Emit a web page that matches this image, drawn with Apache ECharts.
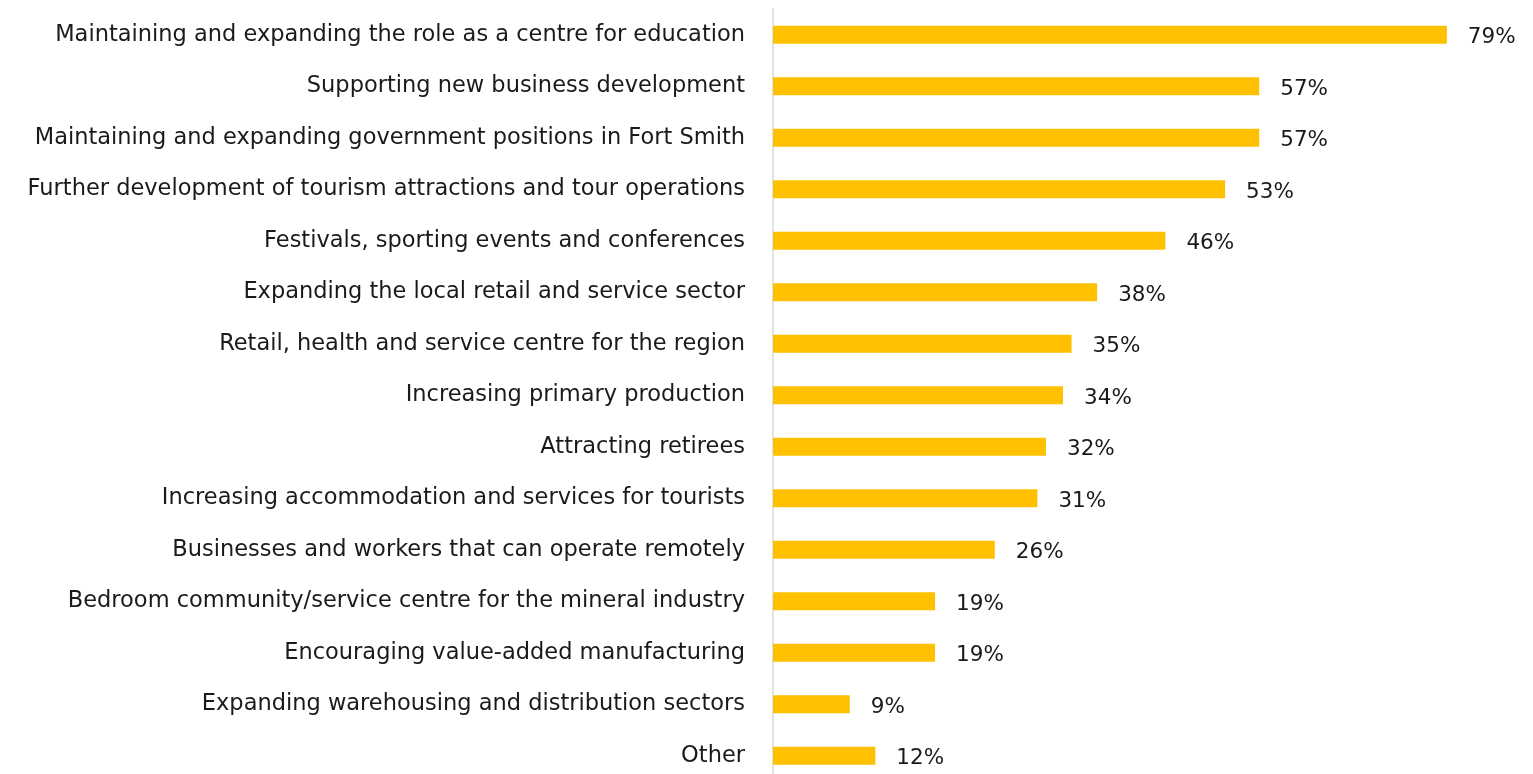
<!DOCTYPE html>
<html>
<head>
<meta charset="utf-8">
<script src="https://cdn.jsdelivr.net/npm/echarts@6/dist/echarts.min.js"></script>
<style>
  html, body { margin: 0; padding: 0; background: #fff; overflow: hidden; }
  #chart { width: 1533px; height: 800px; }
</style>
</head>
<body>
<div id="chart"></div>
<script>
// categories top to bottom
const categories = [
  'Maintaining and expanding the role as a centre for education',
  'Supporting new business development',
  'Maintaining and expanding government positions in Fort Smith',
  'Further development of tourism attractions and tour operations',
  'Festivals, sporting events and conferences',
  'Expanding the local retail and service sector',
  'Retail, health and service centre for the region',
  'Increasing primary production',
  'Attracting retirees',
  'Increasing accommodation and services for tourists',
  'Businesses and workers that can operate remotely',
  'Bedroom community/service centre for the mineral industry',
  'Encouraging value-added manufacturing',
  'Expanding warehousing and distribution sectors',
  'Other'
];
const values = [79, 57, 57, 53, 46, 38, 35, 34, 32, 31, 26, 19, 19, 9, 12];

// chart box is a bit taller than the window so the last row can run off the bottom edge
const chart = echarts.init(document.getElementById('chart'));
const option = {
  animation: false,
  grid: { left: 773, top: 9, width: 682.4, height: 772.5 },
  xAxis: {
    type: 'value',
    min: 0,
    max: 80,
    show: false
  },
  yAxis: {
    type: 'category',
    inverse: true,
    data: categories,
    axisLine: { show: true, lineStyle: { color: '#d9d9d9', width: 1.5 } },
    axisTick: { show: false },
    axisLabel: {
      margin: 28,
      color: '#1a1a1a',
      fontFamily: 'DejaVu Sans',
      fontSize: 22.5
    }
  },
  series: [{
    type: 'bar',
    data: values,
    barWidth: 18,
    itemStyle: { color: '#FFC000' },
    label: {
      show: true,
      position: 'right',
      distance: 21,
      formatter: '{c}%',
      color: '#1a1a1a',
      fontFamily: 'DejaVu Sans',
      fontSize: 21.5,
      offset: [0, 3]
    }
  }]
};
chart.setOption(option);
</script>
</body>
</html>
